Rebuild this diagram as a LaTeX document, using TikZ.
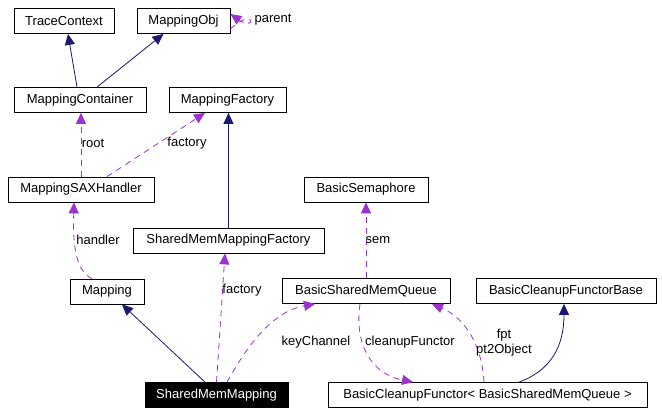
\documentclass[tikz,border=0pt]{standalone}
\usepackage{fontspec}
\setmainfont{Liberation Sans}
\usetikzlibrary{arrows.meta}

\definecolor{inhblue}{HTML}{191970}
\definecolor{usepurple}{HTML}{9A32CD}

\tikzset{
  cls/.style={draw, line width=0.8pt, minimum height=25pt, inner sep=0pt,
    font=\fontsize{13}{14.5}\selectfont},
  focus/.style={cls, fill=black, text=white},
  inherit/.style={draw=inhblue, line width=0.8pt, -{Triangle[length=11pt,width=10pt]}},
  usage/.style={draw=usepurple, line width=0.8pt, dash pattern=on 6pt off 5pt,
    -{Triangle[length=11pt,width=10pt]}},
  lbl/.style={inner sep=0pt, align=center, font=\fontsize{13}{14.5}\selectfont}
}

\begin{document}
\begin{tikzpicture}[x=1pt, y=-1pt]
\useasboundingbox (0,0) rectangle (662,415);

% Classes
\node [cls, minimum width=100] (trace) at ( 64, 21 ) {TraceContext};
\node [cls, minimum width=93] (mobj) at ( 183.5, 21 ) {MappingObj};
\node [cls, minimum width=132] (mcont) at ( 80, 100 ) {MappingContainer};
\node [cls, minimum width=117] (mfact) at ( 227.5, 100 ) {MappingFactory};
\node [cls, minimum width=146] (sax) at ( 81, 189.5 ) {MappingSAXHandler};
\node [cls, minimum width=191] (smfact) at ( 228.5, 240.5 ) {SharedMemMappingFactory};
\node [cls, minimum width=124] (sem) at ( 366, 189.5 ) {BasicSemaphore};
\node [cls, minimum width=74] (mapping) at ( 107, 291.5 ) {Mapping};
\node [cls, minimum width=168] (queue) at ( 366, 291 ) {BasicSharedMemQueue};
\node [cls, minimum width=180] (cfbase) at ( 566, 291 ) {BasicCleanupFunctorBase};
\node [focus, minimum width=143] (smm) at ( 216.5, 395 ) {SharedMemMapping};
\node [cls, minimum width=319] (cfunc) at ( 487.5, 395 ) {BasicCleanupFunctor< BasicSharedMemQueue >};

% Inheritance
\draw [inherit] ([xshift=-3]mcont.north) -- ([xshift=4]trace.south);
\draw [inherit] ([xshift=17]mcont.north) -- ([xshift=-20]mobj.south);
\draw [inherit] (smfact.north) -- (smfact.north |- mfact.south);
\draw [inherit] ([xshift=-11.5]smm.north) -- ([xshift=15]mapping.south);
\draw [inherit] ([xshift=31.5]cfunc.north) .. controls ( 552, 370 ) and ( 564, 345 ) .. ([xshift=-2]cfbase.south);

% Usage
\draw [usage] ([yshift=-8]mobj.east) .. controls ( 256, 6 ) and ( 256, 32 ) .. ([yshift=7]mobj.east);
\node [lbl] (lparent) at ( 273, 20 ) {parent};

\draw [usage] (sax.north) -- (sax.north |- mcont.south);
\node [lbl] (lroot) at ( 93, 143 ) {root};

\draw [usage] ([xshift=26]sax.north) -- ([xshift=-22.5]mfact.south);
\node [lbl] (lfact1) at ( 187, 143 ) {factory};

\draw [usage] ([xshift=-15]mapping.north) .. controls ( 74, 270 ) and ( 73, 240 ) .. ([xshift=-7]sax.south);
\node [lbl] (lhandler) at ( 98, 240 ) {handler};

\draw [usage] (smm.north) -- ([xshift=-3.5]smfact.south);
\node [lbl] (lfact2) at ( 242, 290 ) {factory};

\draw [usage] ([xshift=10.5]smm.north) .. controls ( 245, 350 ) and ( 270, 312 ) .. ([xshift=-51]queue.south);
\node [lbl] (lkey) at ( 316, 342 ) {keyChannel};

\draw [usage] (queue.north) -- (sem.south);
\node [lbl] (lsem) at ( 378, 240 ) {sem};

\draw [usage] ([xshift=-6]queue.south) .. controls ( 354, 345 ) and ( 372, 374 ) .. ([xshift=-74.5]cfunc.north);
\node [lbl] (lclean) at ( 410, 342 ) {cleanupFunctor};

\draw [usage] ([xshift=-3.5]cfunc.north) .. controls ( 482, 345 ) and ( 465, 318 ) .. ([xshift=66]queue.south);
\node [lbl] (lfpt) at ( 504, 342.5 ) {fpt\\pt2Object};

\end{tikzpicture}
\end{document}
